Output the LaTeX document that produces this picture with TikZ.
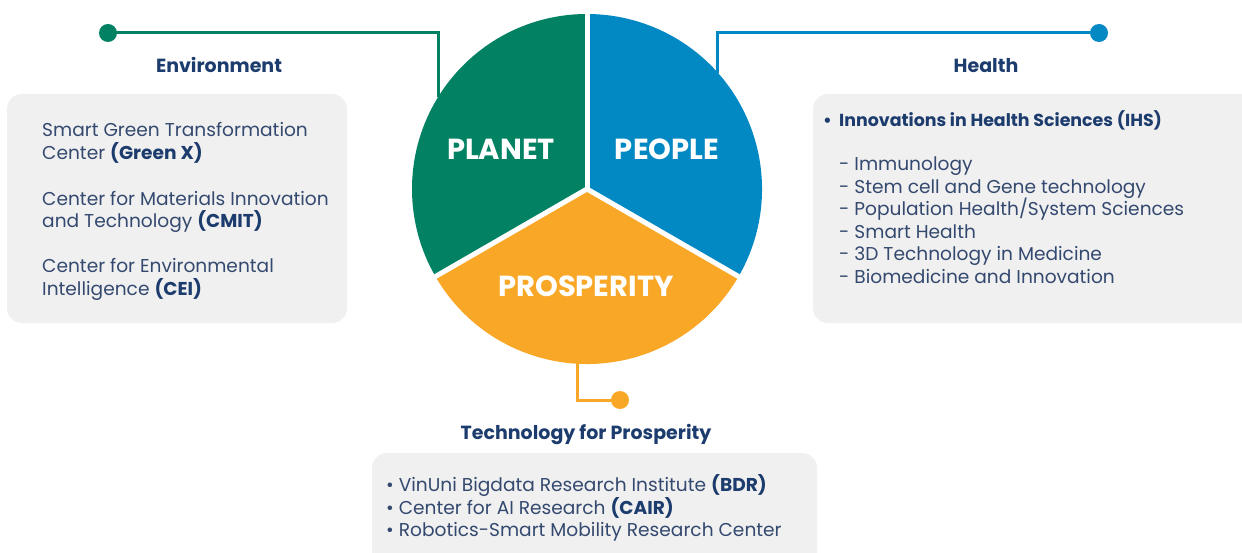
\documentclass[tikz,border=0pt]{standalone}
\usepackage{fontspec}
\setmainfont{Poppins}
\definecolor{cgreen}{HTML}{028163}
\definecolor{cblue}{HTML}{0288C3}
\definecolor{corange}{HTML}{F9A727}
\definecolor{cnavy}{HTML}{1D3C6E}
\definecolor{cbody}{HTML}{34496F}
\definecolor{cbox}{HTML}{F0F0F0}
\tikzset{
  conn/.style={line width=3pt},
  dotnode/.style={circle,inner sep=0pt,minimum size=18pt},
  head/.style={font=\fontsize{19}{22}\selectfont\bfseries,text=cnavy,inner sep=0pt,anchor=base},
  body/.style={font=\fontsize{18.6}{22}\selectfont,text=cbody,inner sep=0pt,anchor=base west},
  bodyb/.style={font=\fontsize{17.4}{22}\selectfont\bfseries,text=cnavy,inner sep=0pt,anchor=base west},
  big/.style={font=\fontsize{29}{32}\selectfont\bfseries,text=white,inner sep=0pt,anchor=base},
  panel/.style={fill=cbox,rounded corners=15pt},
}
\begin{document}
\begin{tikzpicture}[x=1pt,y=1pt]
\useasboundingbox (0,0) rectangle (1242,-553);
\clip (0,0) rectangle (1242,-553);
% pie
\coordinate (C) at (587,-189);
\fill[cgreen] (C) -- ++(90:175) arc[start angle=90,end angle=210,radius=175] -- cycle;
\fill[cblue] (C) -- ++(-30:175) arc[start angle=-30,end angle=90,radius=175] -- cycle;
\fill[corange] (C) -- ++(210:175) arc[start angle=210,end angle=330,radius=175] -- cycle;
\draw[white,line width=5pt] (C) -- ++(90:180);
\draw[white,line width=5pt] (C) -- ++(210:180);
\draw[white,line width=5pt] (C) -- ++(330:180);
\node[big] (planet) at (501,-160) {PLANET};
\node[big] (people) at (667,-160) {PEOPLE};
\node[big] (prosp) at (586,-297) {PROSPERITY};
% connectors
\node[dotnode,fill=cgreen] (gdot) at (108,-33) {};
\coordinate (gin) at (438,-97);
\draw[conn,cgreen] (gdot.center) -- (gdot.center -| gin) -- (gin);
\node[dotnode,fill=cblue] (bdot) at (1099,-33) {};
\coordinate (bin) at (717,-73);
\draw[conn,cblue] (bdot.center) -- (bdot.center -| bin) -- (bin);
\node[dotnode,fill=corange] (odot) at (620,-400) {};
\coordinate (oin) at (577,-362);
\draw[conn,corange] (oin) -- (oin |- odot.center) -- (odot.center);
% headings
\node[head] (henv) at (219,-73) {Environment};
\node[head] (hhealth) at (986,-73) {Health};
\node[head] (htech) at (586,-439) {Technology for Prosperity};
% left panel
\path[panel] (7,-94) rectangle (347,-323);
\node[body] (l1) at (42,-137) {Smart Green Transformation};
\node[body] (l2) at (42,-160) {Center \textcolor{cnavy}{\bfseries (Green X)}};
\node[body] (l3) at (42,-206) {Center for Materials Innovation};
\node[body] (l4) at (42,-228) {and Technology \textcolor{cnavy}{\bfseries (CMIT)}};
\node[body] (l5) at (42,-273) {Center for Environmental};
\node[body] (l6) at (42,-295) {Intelligence \textcolor{cnavy}{\bfseries (CEI)}};
% right panel
\path[panel] (813,-94) rectangle (1270,-323);
\node[bodyb] (rb) at (823,-127) {•};
\node[bodyb] (r0) at (839,-127) {Innovations in Health Sciences (IHS)};
\node[body] (r1) at (839,-171) {- Immunology};
\node[body] (r2) at (839,-193.5) {- Stem cell and Gene technology};
\node[body] (r3) at (839,-216) {- Population Health/System Sciences};
\node[body] (r4) at (839,-238.5) {- Smart Health};
\node[body] (r5) at (839,-261) {- 3D Technology in Medicine};
\node[body] (r6) at (839,-283.5) {- Biomedicine and Innovation};
% bottom panel
\path[panel] (372,-453) rectangle (817,-590);
\node[body] (b1) at (386,-491) {• VinUni Bigdata Research Institute \textcolor{cnavy}{\bfseries (BDR)}};
\node[body] (b2) at (386,-514) {• Center for AI Research \textcolor{cnavy}{\bfseries (CAIR)}};
\node[body] (b3) at (386,-536) {• Robotics-Smart Mobility Research Center};
\end{tikzpicture}
\end{document}
